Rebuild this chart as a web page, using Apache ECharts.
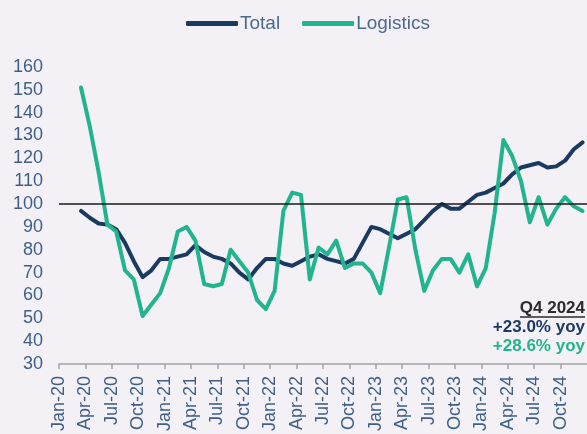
<!DOCTYPE html>
<html>
<head>
<meta charset="utf-8">
<script src="https://cdn.jsdelivr.net/npm/echarts@6/dist/echarts.min.js"></script>
<style>
  html, body { margin: 0; padding: 0; background: #f3f0f6; }
  #chart { width: 587px; height: 434px; }
</style>
</head>
<body>
<div id="chart"></div>
<script>
// tick labels, one every 3 months from Jan-20
const tickLabels = ['Jan-20', 'Apr-20', 'Jul-20', 'Oct-20', 'Jan-21', 'Apr-21', 'Jul-21', 'Oct-21',
  'Jan-22', 'Apr-22', 'Jul-22', 'Oct-22', 'Jan-23', 'Apr-23', 'Jul-23', 'Oct-23',
  'Jan-24', 'Apr-24', 'Jul-24', 'Oct-24'];

// monthly index values, Jan-20 .. Dec-24
const total = [null, null, 97, 94, 91.5, 91, 89, 83, 75, 68, 71, 76,
  76, 77, 78, 82, 79, 77, 76, 74, 70, 67, 72, 76,
  76, 74, 73, 75, 77, 78, 76, 75, 74, 76, 83, 90,
  89, 87, 85, 87, 89, 93, 97, 100, 98, 98, 101, 104,
  105, 107, 109, 113, 116, 117, 118, 116, 116.5, 119, 124, 127];

const logistics = [null, null, 151, 134, 114, 91, 88, 71, 67, 51, 56, 61,
  72, 88, 90, 84, 65, 64, 65, 80, 75, 70, 58, 54,
  62, 97, 105, 104, 67, 81, 78, 84, 72, 74, 74, 70,
  61, 81, 102, 103, 80, 62, 71, 76, 76, 70, 78, 64,
  72, 96, 128, 121, 110, 92, 103, 91, 98, 103, 99, 97];

const NAVY = '#1b3a62';
const TEAL = '#22b48d';
const TXT = '#3f5f86';
const FONT = 'Arial, "Liberation Sans", sans-serif';

// points sit in the middle of each month
const toPoints = arr => arr.map((v, i) => [i + 0.5, v]);

const chart = echarts.init(document.getElementById('chart'));

chart.setOption({
  backgroundColor: '#f3f0f6',
  animation: false,
  legend: {
    top: 9,
    left: 181,
    itemWidth: 52,
    itemHeight: 5,
    itemGap: 22,
    icon: 'roundRect',
    textStyle: { fontFamily: FONT, fontSize: 19, color: '#4d6a8c', padding: [0, 0, 0, -3] },
    data: ['Total', 'Logistics']
  },
  grid: { left: 59, right: -11, top: 67, bottom: 69 },
  xAxis: {
    type: 'value',
    min: 0,
    max: 60,
    interval: 3,
    splitLine: { show: false },
    axisLine: { show: true, lineStyle: { color: '#a3a3a3', width: 1.5 } },
    axisTick: { show: true, length: 5, lineStyle: { color: '#a3a3a3', width: 1.5 } },
    axisLabel: {
      rotate: 90,
      margin: 12,
      fontFamily: FONT,
      fontSize: 18,
      color: TXT,
      showMaxLabel: false,
      formatter: v => tickLabels[Math.round(v / 3)] || ''
    }
  },
  yAxis: {
    type: 'value',
    min: 30,
    max: 160,
    interval: 10,
    splitLine: { show: false },
    axisLine: { show: false },
    axisTick: { show: false },
    axisLabel: { margin: 16, fontFamily: FONT, fontSize: 18, color: TXT }
  },
  series: [
    {
      name: 'Total',
      type: 'line',
      data: toPoints(total),
      showSymbol: false,
      color: NAVY,
      lineStyle: { width: 4, color: NAVY, join: 'round', cap: 'round' }
    },
    {
      name: 'Logistics',
      type: 'line',
      data: toPoints(logistics),
      showSymbol: false,
      color: TEAL,
      lineStyle: { width: 4, color: TEAL, join: 'round', cap: 'round' },
      markLine: {
        silent: true,
        symbol: 'none',
        label: { show: false },
        lineStyle: { color: '#1a1a1a', width: 1.5, type: 'solid' },
        data: [{ yAxis: 100 }]
      }
    }
  ],
  graphic: [
    {
      type: 'text', right: 2, top: 300,
      style: { text: 'Q4 2024', font: 'bold 17px ' + FONT, fill: '#2b2b2b', textAlign: 'right' }
    },
    {
      type: 'line', shape: { x1: 520, y1: 317, x2: 585, y2: 317 },
      style: { stroke: '#2b2b2b', lineWidth: 1.5 }
    },
    {
      type: 'text', right: 2, top: 319,
      style: { text: '+23.0% yoy', font: 'bold 17px ' + FONT, fill: NAVY, textAlign: 'right' }
    },
    {
      type: 'text', right: 2, top: 338,
      style: { text: '+28.6% yoy', font: 'bold 17px ' + FONT, fill: TEAL, textAlign: 'right' }
    }
  ]
});
</script>
</body>
</html>
